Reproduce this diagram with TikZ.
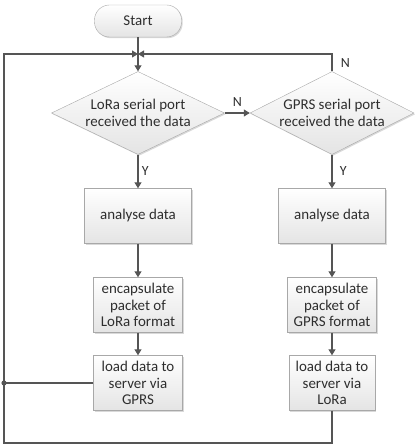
\documentclass[tikz,border=0pt]{standalone}
\usepackage{fontspec}
\setmainfont{Carlito}
\usetikzlibrary{arrows.meta,shapes.geometric,shadows}
\definecolor{flowink}{HTML}{555555}
\definecolor{flowedge}{HTML}{A8A8A8}
\definecolor{flowfill}{HTML}{E4E4E4}
\definecolor{flowtext}{HTML}{2E2E2E}
\tikzset{
  box/.style={draw=flowedge, top color=white, bottom color=flowfill, align=center, text=flowtext,
    font=\fontsize{15}{16.8}\selectfont, inner sep=1.5pt,
    drop shadow={shadow xshift=1.2bp, shadow yshift=-1.2bp, opacity=.25, fill=black!60}},
  term/.style={box, rounded corners=15bp, minimum width=87bp, minimum height=32bp},
  dec/.style={box, diamond, aspect=2.08, minimum height=83bp, inner sep=0pt},
  proc/.style={box, minimum height=55bp},
  lbl/.style={font=\fontsize{14}{16}\selectfont, text=flowtext},
  line/.style={draw=flowink, line width=1.1bp},
  arr/.style={line, -{Triangle[length=6bp,width=7bp]}},
}
\begin{document}
\begin{tikzpicture}[x=1bp,y=-1bp]
  \useasboundingbox (0,0) rectangle (414,446);
  % main column (LoRa) and side column (GPRS)
  \node[term] (start) at (138,21) {Start};
  \node[dec, minimum width=173bp] (lora) at (138,113) {LoRa serial port\\received the data};
  \node[dec, minimum width=164bp] (gprs) at (332,113) {GPRS serial port\\received the data};
  \node[proc, minimum width=107bp] (ana1) at (138,216) {analyse data};
  \node[proc, minimum width=107bp] (ana2) at (332,216) {analyse data};
  \node[proc, minimum width=89bp] (enc1) at (138,305) {encapsulate\\packet of\\LoRa format};
  \node[proc, minimum width=89bp] (enc2) at (332,305) {encapsulate\\packet of\\GPRS format};
  \node[proc, minimum width=89bp] (load1) at (138,383) {load data to\\server via\\GPRS};
  \node[proc, minimum width=86bp] (load2) at (332,383) {load data to\\server via\\LoRa};
  % loop corners
  \coordinate (junc) at (138,54);
  \coordinate (tl) at (4,54);
  \coordinate (bl) at (4,443);
  \coordinate (dot) at (4,383);
  \draw[line] (start) -- (junc);
  \draw[arr] (junc) -- (lora);
  \draw[arr] (lora) -- node[lbl, above=3bp] (n1) {N} (gprs);
  \draw[arr] (gprs.north) |- node[lbl, pos=0.25, right=5bp] (n2) {N} (junc);
  \draw[arr] (lora) -- node[lbl, right] (y1) {Y} (ana1);
  \draw[arr] (gprs) -- node[lbl, right=4bp] (y2) {Y} (ana2);
  \draw[arr] (ana1) -- (enc1);
  \draw[arr] (ana2) -- (enc2);
  \draw[arr] (enc1) -- (load1);
  \draw[arr] (enc2) -- (load2);
  \draw[arr] (load2.south) |- (bl) -- (tl) -- (junc);
  \draw[line] (load1.west) -- (dot);
  \fill[flowink] (dot) circle (2.6bp);
\end{tikzpicture}
\end{document}
